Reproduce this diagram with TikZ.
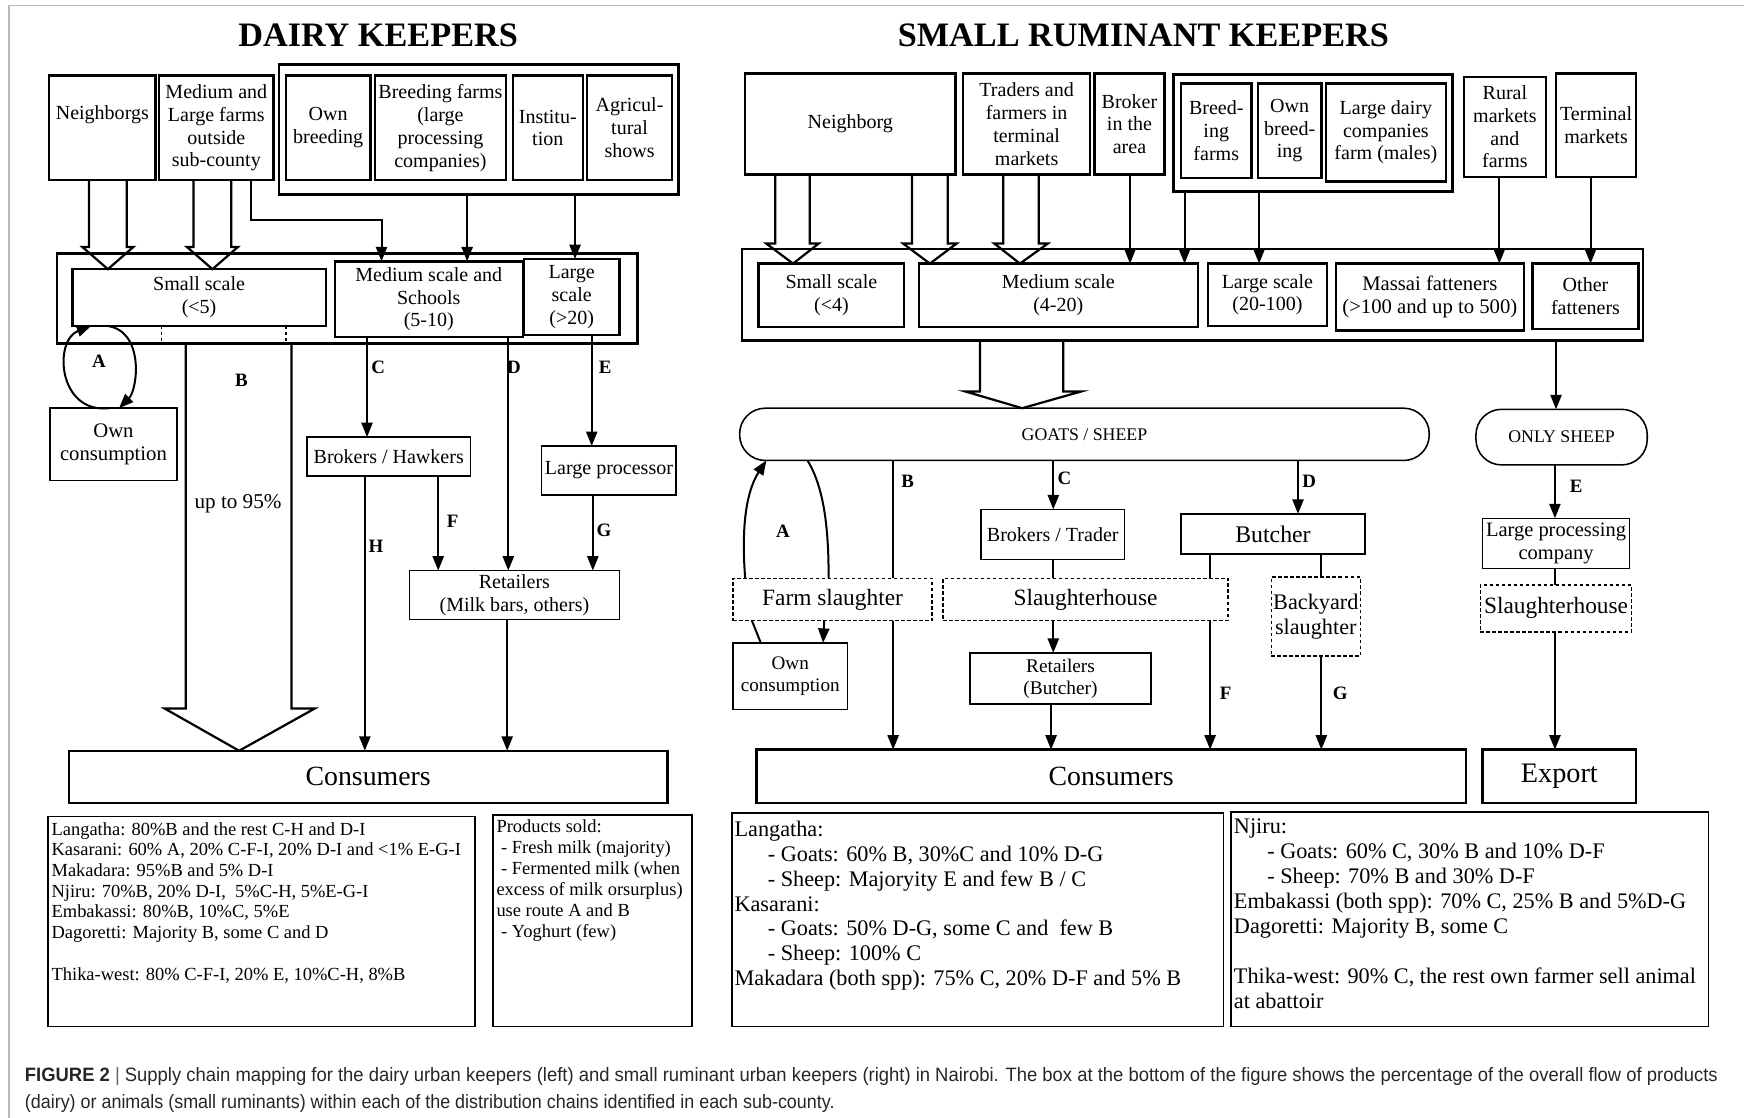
\documentclass[tikz,border=0pt]{standalone}
\usepackage{fontspec}
\setmainfont{Liberation Serif}
\newfontfamily\capfont{Liberation Sans}
\usepackage{graphicx}
\usetikzlibrary{arrows.meta}
\newcommand\bx[7][]{\node[box,#1,minimum width={(#5-#3)*0.5pt},minimum height={(#6-#4)*0.5pt}] (#2) at ({(#3+#5)/2},{(#4+#6)/2}) {#7};}
\tikzset{
 box/.style={draw, line width=1.1pt, fill=white, inner sep=0pt, outer sep=0pt, align=center, font=\fontsize{9}{10.25}\selectfont},
 thin/.style={line width=0.7pt},
 mid/.style={line width=0.8pt},
 dsh/.style={line width=0.7pt, dash pattern=on 1.6pt off 1.1pt},
 stad/.style={rounded corners=11.5pt},
 arr/.style={line width=0.9pt, -{Triangle[length=6.5pt,width=5pt]}},
 ln/.style={line width=0.9pt},
 hol/.style={line width=1pt, line join=miter},
 lab/.style={font=\fontsize{8.5}{9}\selectfont\bfseries, inner sep=0pt},
 ttl/.style={font=\fontsize{15.4}{17}\selectfont\bfseries, inner sep=0pt},
 txt/.style={anchor=north west, align=left, inner sep=0pt}
}
\begin{document}
\begin{tikzpicture}[x=0.5pt,y=-0.5pt]
\useasboundingbox (0,0) rectangle (1568,1005);
\draw[gray!55, line width=0.6pt] (8,1005) -- (8,5) -- (1568,5);

% titles
\node[ttl] (t1) at (340,32) {DAIRY KEEPERS};
\node[ttl] (t2) at (1028,32) {SMALL RUMINANT KEEPERS};

% ===== DAIRY =====
\bx{nbD}{44}{68}{140}{162}{}
\node[font=\fontsize{9}{10.25}\selectfont, inner sep=0pt] (nbDt) at (92,103) {Neighborgs};
\bx{mlD}{143}{68}{246}{162}{Medium and\\Large farms\\outside\\sub-county}
\bx{grpD}{251}{58}{610}{175}{}
\bx{obD}{257}{68}{333}{162}{Own\\breeding}
\bx{bfD}{337}{68}{455}{162}{Breeding farms\\(large\\processing\\companies)}
\bx{inD}{461}{68}{524}{162}{Institu-\\tion}
\bx{agD}{528}{68}{604}{162}{Agricul-\\tural\\shows}

\bx{outD}{51}{228}{573}{309}{}
\bx{ssD}{65}{242}{293}{293}{Small scale\\(<5)}
\bx{msD}{301}{235}{470}{303}{Medium scale and\\Schools\\(5-10)}
\bx{lsD}{471}{233}{557}{301}{Large\\scale\\(>20)}

\bx[thin,font=\fontsize{9.3}{10.5}\selectfont]{ocD}{45}{367}{159}{432}{Own\\consumption}
\bx[thin]{brD}{276}{393}{423}{428}{Brokers / Hawkers}
\bx[thin]{lpD}{487}{401}{608}{445}{Large processor}
\bx[thin]{retD}{368}{513}{557}{557}{Retailers\\(Milk bars, others)}
\bx[font=\fontsize{12.5}{14}\selectfont]{conD}{62}{675}{600}{722}{Consumers}

% dairy top arrows
\draw[hol] (80,0 |- nbD.south) -- (80,222) -- (74,222) -- (97,0 |- ssD.north) -- (120,222) -- (114,222) -- (114,0 |- nbD.south);
\draw[hol] (174,0 |- mlD.south) -- (174,222) -- (168,222) -- (191,0 |- ssD.north) -- (214,222) -- (208,222) -- (208,0 |- mlD.south);
\draw[arr] (226,0 |- mlD.south) -- (226,198) -- (343,198) -- (343,0 |- msD.north);
\draw[arr] (420,0 |- grpD.south) -- (420,0 |- msD.north);
\draw[arr] (517,0 |- grpD.south) -- (517,0 |- lsD.north);

% dairy lower
\draw[line width=0.6pt, dash pattern=on 1.5pt off 1.2pt] (145,0 |- ssD.south) -- (145,0 |- outD.south);
\draw[line width=0.6pt, dash pattern=on 1.5pt off 1.2pt] (257,0 |- ssD.south) -- (257,0 |- outD.south);
\draw[hol] (167,0 |- outD.south) -- (167,637) -- (148,637) -- (215,0 |- conD.north) -- (283,637) -- (262,637) -- (262,0 |- outD.south);
\draw[arr] (ocD.north -| 98,0) .. controls (52,372) and (48,306) .. (ssD.south -| 82,0);
\draw[arr] (ssD.south -| 96,0) .. controls (130,297) and (124,350) .. (ocD.north -| 107,0);
\draw[arr] (330,0 |- msD.south) -- (330,0 |- brD.north);
\draw[arr] (457,0 |- msD.south) -- (457,0 |- retD.north);
\draw[arr] (532,0 |- lsD.south) -- (532,0 |- lpD.north);
\draw[arr] (328,0 |- brD.south) -- (328,0 |- conD.north);
\draw[arr] (394,0 |- brD.south) -- (394,0 |- retD.north);
\draw[arr] (533,0 |- lpD.south) -- (533,0 |- retD.north);
\draw[arr] (456,0 |- retD.south) -- (456,0 |- conD.north);

\node[lab] (lAd) at (89,325) {A};
\node[lab] (lBd) at (217,342) {B};
\node[lab] (lCd) at (340,330) {C};
\node[lab] (lDd) at (462,330) {D};
\node[lab] (lEd) at (544,330) {E};
\node[lab] (lFd) at (407,469) {F};
\node[lab] (lGd) at (543,477) {G};
\node[lab] (lHd) at (338,491) {H};
\node[font=\fontsize{9.5}{10}\selectfont, inner sep=0pt] (p95) at (214,453) {up to 95\%};

% dairy text boxes
\bx[mid]{tbD1}{43}{734}{427}{923}{}
\node[txt, font=\fontsize{8.3}{9.3}\selectfont] (tbD1t) at (46,739) {Langatha: 80\%B and the rest C-H and D-I\\
Kasarani: 60\% A, 20\% C-F-I, 20\% D-I and <1\% E-G-I\\
Makadara: 95\%B and 5\% D-I\\
Njiru: 70\%B, 20\% D-I,\ \ 5\%C-H, 5\%E-G-I\\
Embakassi: 80\%B, 10\%C, 5\%E\\
Dagoretti: Majority B, some C and D\\
\mbox{}\\
Thika-west: 80\% C-F-I, 20\% E, 10\%C-H, 8\%B};
\bx[mid]{tbD2}{443}{733}{622}{923}{}
\node[txt, font=\fontsize{8.3}{9.4}\selectfont] (tbD2t) at (446,737) {Products sold:\\
\ - Fresh milk (majority)\\
\ - Fermented milk (when\\
excess of milk orsurplus)\\
use route A and B\\
\ - Yoghurt (few)};

% ===== SMALL RUMINANT =====
\bx{nbS}{670}{66}{859}{157}{Neighborg}
\bx{trS}{866}{66}{980}{157}{Traders and\\farmers in\\terminal\\markets}
\bx{bkS}{984}{66}{1047}{157}{Broker\\in the\\area}
\bx{grpS}{1055}{67}{1306}{172}{}
\bx{bfS}{1062}{75}{1125}{160}{Breed-\\ing\\farms}
\bx{obS}{1131}{75}{1188}{160}{Own\\breed-\\ing}
\bx{ldS}{1192}{75}{1300}{163}{Large dairy\\companies\\farm (males)}
\bx{rmS}{1316}{69}{1390}{159}{Rural\\markets\\and\\farms}
\bx{tmS}{1399}{66}{1471}{159}{Terminal\\markets}

\bx{outS}{667}{224}{1477}{306}{}
\bx{ssS}{682}{237}{813}{294}{Small scale\\(<4)}
\bx{msS}{826}{237}{1077}{294}{Medium scale\\(4-20)}
\bx{lsS}{1086}{237}{1193}{293}{Large scale\\(20-100)}
\bx[font=\fontsize{9.3}{10.5}\selectfont]{mfS}{1201}{237}{1370}{297}{Massai fatteners\\(>100 and up to 500)}
\bx{ofS}{1378}{237}{1473}{296}{Other\\fatteners}

\bx[thin,stad,font=\fontsize{8}{9}\selectfont]{gsS}{665}{367}{1285}{414}{GOATS / SHEEP}
\bx[thin,stad,font=\fontsize{8}{9}\selectfont]{osS}{1327}{368}{1481}{418}{ONLY SHEEP}
\bx[thin]{btS}{882}{458}{1011}{503}{Brokers / Trader}
\bx[thin,font=\fontsize{10.7}{12}\selectfont]{buS}{1062}{462}{1227}{498}{Butcher}
\bx[thin,font=\fontsize{9.2}{10}\selectfont]{lpS}{1333}{466}{1465}{511}{Large processing\\company}
\bx[dsh,font=\fontsize{10.5}{12}\selectfont]{fsS}{659}{520}{838}{558}{Farm slaughter}
\bx[dsh,font=\fontsize{10.5}{12}\selectfont]{shS}{848}{520}{1104}{558}{Slaughterhouse}
\bx[dsh,font=\fontsize{10}{11.5}\selectfont]{byS}{1143}{519}{1223}{590}{Backyard\\slaughter}
\bx[dsh,font=\fontsize{10.5}{12}\selectfont]{shS2}{1331}{526}{1467}{568}{Slaughterhouse}
\bx[thin,font=\fontsize{8.6}{10}\selectfont]{ocS}{659}{578}{762}{638}{Own\\consumption}
\bx[thin,font=\fontsize{8.7}{10}\selectfont]{rbS}{872}{587}{1035}{633}{Retailers\\(Butcher)}
\bx[font=\fontsize{12.5}{14}\selectfont]{conS}{680}{674}{1318}{722}{Consumers}
\bx[font=\fontsize{12.7}{14}\selectfont]{exS}{1333}{674}{1471}{722}{Export}

% ruminant top arrows
\draw[hol] (697,0 |- nbS.south) -- (697,219) -- (689,219) -- (713,0 |- ssS.north) -- (736,219) -- (728,219) -- (728,0 |- nbS.south);
\draw[hol] (820,0 |- nbS.south) -- (820,219) -- (812,219) -- (836,0 |- msS.north) -- (860,219) -- (852,219) -- (852,0 |- nbS.south);
\draw[hol] (902,0 |- trS.south) -- (902,219) -- (894,219) -- (917,0 |- msS.north) -- (942,219) -- (934,219) -- (934,0 |- trS.south);
\draw[arr] (1016,0 |- bkS.south) -- (1016,0 |- msS.north);
\draw[arr] (1065,0 |- grpS.south) -- (1065,0 |- msS.north);
\draw[arr] (1132,0 |- grpS.south) -- (1132,0 |- lsS.north);
\draw[arr] (1348,0 |- rmS.south) -- (1348,0 |- mfS.north);
\draw[arr] (1430,0 |- tmS.south) -- (1430,0 |- ofS.north);
\draw[hol] (881,0 |- outS.south) -- (881,352) -- (868,352) -- (919,0 |- gsS.north) -- (972,352) -- (956,352) -- (956,0 |- outS.south);
\draw[arr] (1399,0 |- outS.south) -- (1399,0 |- osS.north);

% ruminant lower arrows
\draw[arr] (fsS.north -| 670,0) .. controls (666,470) and (672,440) .. (gsS.south -| 689,0);
\draw[ln] (ocS.north -| 684,0) -- (fsS.south -| 676,0);
\draw[ln] (gsS.south -| 726,0) .. controls (742,440) and (745,480) .. (fsS.north -| 745,0);
\draw[arr] (fsS.south -| 741,0) -- (ocS.north -| 740,0);
\draw[ln] (803,0 |- gsS.south) -- (803,0 |- fsS.north);
\draw[arr] (803,0 |- fsS.south) -- (803,0 |- conS.north);
\draw[arr] (947,0 |- gsS.south) -- (947,0 |- btS.north);
\draw[ln] (947,0 |- btS.south) -- (947,0 |- shS.north);
\draw[arr] (947,0 |- shS.south) -- (947,0 |- rbS.north);
\draw[arr] (945,0 |- rbS.south) -- (945,0 |- conS.north);
\draw[arr] (1167,0 |- gsS.south) -- (1167,0 |- buS.north);
\draw[ln] (1088,0 |- buS.south) -- (1088,0 |- shS.north);
\draw[arr] (1088,0 |- shS.south) -- (1088,0 |- conS.north);
\draw[ln] (1188,0 |- buS.south) -- (1188,0 |- byS.north);
\draw[arr] (1188,0 |- byS.south) -- (1188,0 |- conS.north);
\draw[arr] (1398,0 |- osS.south) -- (1398,0 |- lpS.north);
\draw[ln] (1398,0 |- lpS.south) -- (1398,0 |- shS2.north);
\draw[arr] (1398,0 |- shS2.south) -- (1398,0 |- exS.north);

\node[lab] (lAs) at (704,478) {A};
\node[lab] (lBs) at (816,433) {B};
\node[lab] (lCs) at (957,430) {C};
\node[lab] (lDs) at (1177,433) {D};
\node[lab] (lEs) at (1417,437) {E};
\node[lab] (lFs) at (1102,623) {F};
\node[lab] (lGs) at (1205,623) {G};

% ruminant text boxes
\bx[mid]{tbS1}{658}{731}{1100}{923}{}
\node[txt, font=\fontsize{10}{11.15}\selectfont] (tbS1t) at (660,738) {Langatha:\\
\hspace*{15pt}- Goats: 60\% B, 30\%C and 10\% D-G\\
\hspace*{15pt}- Sheep: Majoryity E and few B / C\\
Kasarani:\\
\hspace*{15pt}- Goats: 50\% D-G, some C and\ \ few B\\
\hspace*{15pt}- Sheep: 100\% C\\
Makadara (both spp): 75\% C, 20\% D-F and 5\% B};
\bx[mid]{tbS2}{1107}{730}{1536}{923}{}
\node[txt, font=\fontsize{10}{11.25}\selectfont] (tbS2t) at (1109,736) {Njiru:\\
\hspace*{15pt}- Goats: 60\% C, 30\% B and 10\% D-F\\
\hspace*{15pt}- Sheep: 70\% B and 30\% D-F\\
Embakassi (both spp): 70\% C, 25\% B and 5\%D-G\\
Dagoretti: Majority B, some C\\
\mbox{}\\
Thika-west: 90\% C, the rest own farmer sell animal\\
at abattoir};

% caption
\node[anchor=west, inner sep=0pt, text=black!85] (cap1) at (22,968) {\resizebox{761pt}{\height}{\capfont\fontsize{8.7}{10}\selectfont\textbf{FIGURE 2} {\color{black!60}|} Supply chain mapping for the dairy urban keepers (left) and small ruminant urban keepers (right) in Nairobi. The box at the bottom of the figure shows the percentage of the overall flow of products}};
\node[anchor=west, inner sep=0pt, text=black!85] (cap2) at (22,992) {\resizebox{364pt}{\height}{\capfont\fontsize{8.7}{10}\selectfont (dairy) or animals (small ruminants) within each of the distribution chains identified in each sub-county.}};
\end{tikzpicture}
\end{document}
